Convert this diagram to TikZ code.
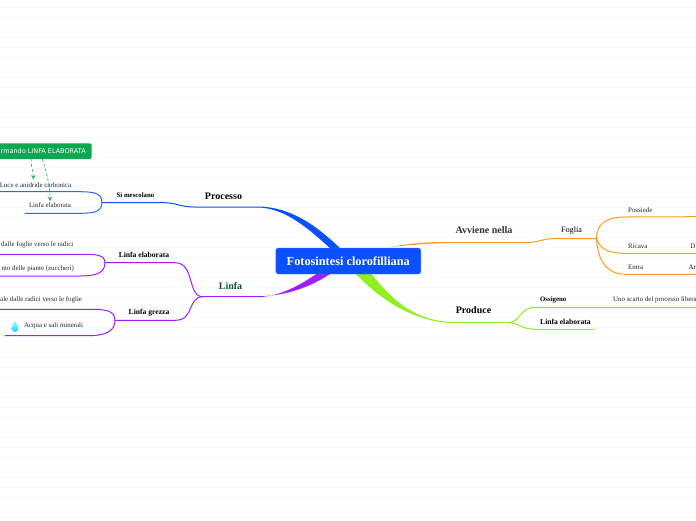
\documentclass[tikz,border=0pt]{standalone}
\usepackage{fontspec}
\setmainfont{Liberation Serif}
\setsansfont{DejaVu Sans}
\usetikzlibrary{arrows.meta}
\definecolor{cblue}{HTML}{0A50FF}
\definecolor{cpurple}{HTML}{A01EFF}
\definecolor{corange}{HTML}{FF9E1B}
\definecolor{cgreen}{HTML}{8FF01E}
\definecolor{cgreenbox}{HTML}{0CA750}
\definecolor{cline}{HTML}{2D66F0}
\definecolor{clinfa}{HTML}{0B5345}
\definecolor{cbg}{HTML}{FAFAFA}
\tikzset{
 x=1pt,y=-1pt,
 lbl/.style={inner sep=0pt,anchor=center,text=black!85,font=\fontsize{6.9}{8}\selectfont},
 sub/.style={inner sep=0pt,anchor=center,text=black,font=\fontsize{6.8}{8}\selectfont\bfseries},
 mid/.style={inner sep=0pt,anchor=center,text=black,font=\fontsize{7.6}{9}\selectfont\bfseries},
 main/.style={inner sep=0pt,anchor=center,text=black,font=\fontsize{10}{12}\selectfont\bfseries},
 thinb/.style={line width=1pt,line cap=round},
 dashb/.style={cgreenbox!85,densely dashed,line width=.65pt,-{Stealth[length=4.5pt,width=4.5pt]}},
}
\begin{document}
\begin{tikzpicture}
\useasboundingbox (0,0) rectangle (696,520);
\fill[white] (0,0) rectangle (696,520);
\foreach \yy in {7.5,17.5,...,520} \draw[cbg,line width=1pt] (0,\yy) -- (696,\yy);
% thick tapered branches
\fill[cblue] (258,206.5) .. controls (290,207) and (315,224) .. (342,250) -- (332,250) .. controls (308,228) and (285,208) .. (258,207.5) -- cycle;
\fill[cpurple] (260,296.2) .. controls (290,295.5) and (315,285) .. (336,270) -- (322,270) .. controls (305,282) and (285,295) .. (260,297.2) -- cycle;
\fill[corange] (390,247) .. controls (405,244) and (425,242) .. (445,242) -- (445,243) .. controls (430,243.5) and (410,245) .. (390,247) -- cycle;
\fill[cgreen] (370,272) .. controls (392,300) and (415,322) .. (455,322) -- (455,323) .. controls (420,323) and (385,305) .. (354,272) -- cycle;
% root
\node[fill=cblue,rounded corners=2.5pt,minimum width=145pt,minimum height=26pt,inner sep=0pt,text=white,font=\fontsize{12.3}{14}\selectfont\bfseries,draw=cblue!70,line width=.4pt] (root) at (348.3,261) {Fotosintesi clorofilliana};
% Processo
\node[main] (proc) at (223.5,196) {Processo};
\draw[cblue,thinb] (258,207) -- (195,207) .. controls (178,207) and (178,202.5) .. (160,202.5) -- (102,202.5);
\node[sub] (mesc) at (135.5,195) {Si mescolano};
\draw[cline,thinb] (102,202.5) .. controls (102,192) and (92,191.7) .. (76,191.7) -- (0,191.7);
\draw[cline,thinb] (102,202.5) .. controls (102,213) and (92,213.3) .. (76,213.3) -- (25,213.3);
\node[lbl] (luce) at (35.5,185) {Luce e anidride carbonica};
\node[lbl] (le1) at (50,205.5) {Linfa elaborata};
\fill[cgreenbox,rounded corners=2pt] (-6,143.3) rectangle (91.7,159);
\node[inner sep=0pt,text=white,font=\sffamily\fontsize{6.5}{8}\selectfont,anchor=east] (fbox) at (86,151) {rmando LINFA ELABORATA};
\coordinate (a1) at (31,159); \coordinate (a2) at (42.3,159);
\draw[dashb] (a1) .. controls (31,166) and (33,170) .. (33.4,179.5);
\draw[dashb] (a2) .. controls (46,170) and (50,185) .. (50,201);
% Linfa
\node[main,text=clinfa] (linfa) at (230.5,286) {Linfa};
\draw[cpurple,thinb] (260,296.7) -- (203,296.7);
\draw[cpurple,thinb] (203,296.7) .. controls (187,296.7) and (195,262.7) .. (175,262.7) -- (105,262.7);
\draw[cpurple,thinb] (203,296.7) .. controls (187,296.7) and (195,320.3) .. (175,320.3) -- (115,320.3);
\node[mid] (le2) at (144,255) {Linfa elaborata};
\node[mid] (lg) at (149,312.5) {Linfa grezza};
\draw[cpurple,thinb] (105,262.7) .. controls (105,254) and (94,254.3) .. (80,254.3) -- (0,254.3);
\draw[cpurple,thinb] (105,262.7) .. controls (105,274) and (94,276) .. (80,276) -- (0,276);
\draw[cpurple,thinb] (115,320.3) .. controls (115,310) and (104,309.3) .. (90,309.3) -- (0,309.3);
\draw[cpurple,thinb] (115,320.3) .. controls (115,332) and (104,335.7) .. (88,335.7) -- (5,335.7);
\node[lbl,anchor=west] (t1) at (1,245) {dalle foglie verso le radici};
\node[lbl,anchor=east] (t2) at (74,269) {nto delle piante (zuccheri)};
\node[lbl,anchor=west] (t3) at (0,300) {ale dalle radici verso le foglie};
\node[lbl,anchor=west] (t4) at (24,326) {Acqua e sali minerali};
\shade[top color=cyan!40,bottom color=cyan!85!blue,draw=none] (15,320.7) .. controls (13,325) and (11.5,327) .. (11.5,328.5) .. controls (11.5,333) and (18.5,333) .. (18.5,328.5) .. controls (18.5,327) and (17,325) .. (15,320.7) -- cycle;
% Avviene
\node[main,text=black!80] (avv) at (484,230.5) {Avviene nella};
\draw[corange,thinb] (445,242.6) -- (527,242.6) .. controls (538,242.6) and (543,238.5) .. (555,238.5) -- (596.5,238.5);
\node[inner sep=0pt,text=black,font=\fontsize{8.2}{9}\selectfont] (fog) at (571.5,230.5) {Foglia};
\draw[corange,thinb] (596.5,238.5) .. controls (596.5,225) and (605,217) .. (625,217) -- (696,216.7);
\draw[corange,thinb] (596.5,238.5) .. controls (600,250) and (610,253.3) .. (625,253.3) -- (696,253.3);
\draw[corange,thinb] (596.5,238.5) .. controls (598,265) and (610,274.3) .. (625,274.3) -- (696,274.3);
\node[lbl,anchor=west] (p1) at (628,210) {Possiede};
\node[lbl,anchor=west] (p2) at (628,246) {Ricava};
\node[lbl,anchor=west] (p3) at (628,267.5) {Entra};
\node[lbl,anchor=east] (p4) at (695.5,246) {D};
\node[lbl,anchor=west] (p5) at (688.5,267.5) {Ar};
% Produce
\node[main] (prod) at (473.5,310.5) {Produce};
\draw[cgreen,thinb] (450,322.6) -- (507,322.6);
\draw[cgreen,thinb] (507,322.6) .. controls (522,322.6) and (518,307.3) .. (536,307.3) -- (696,307.3);
\draw[cgreen,thinb] (507,322.6) .. controls (520,322.6) and (520,329.3) .. (536,329.3) -- (594,329.3);
\node[sub,anchor=west] (oss) at (540,300) {Ossigeno};
\node[lbl,anchor=west] (scarto) at (613,300) {Uno scarto del processo libera};
\node[mid,anchor=west] (le3) at (540,321.5) {Linfa elaborata};
\end{tikzpicture}
\end{document}
